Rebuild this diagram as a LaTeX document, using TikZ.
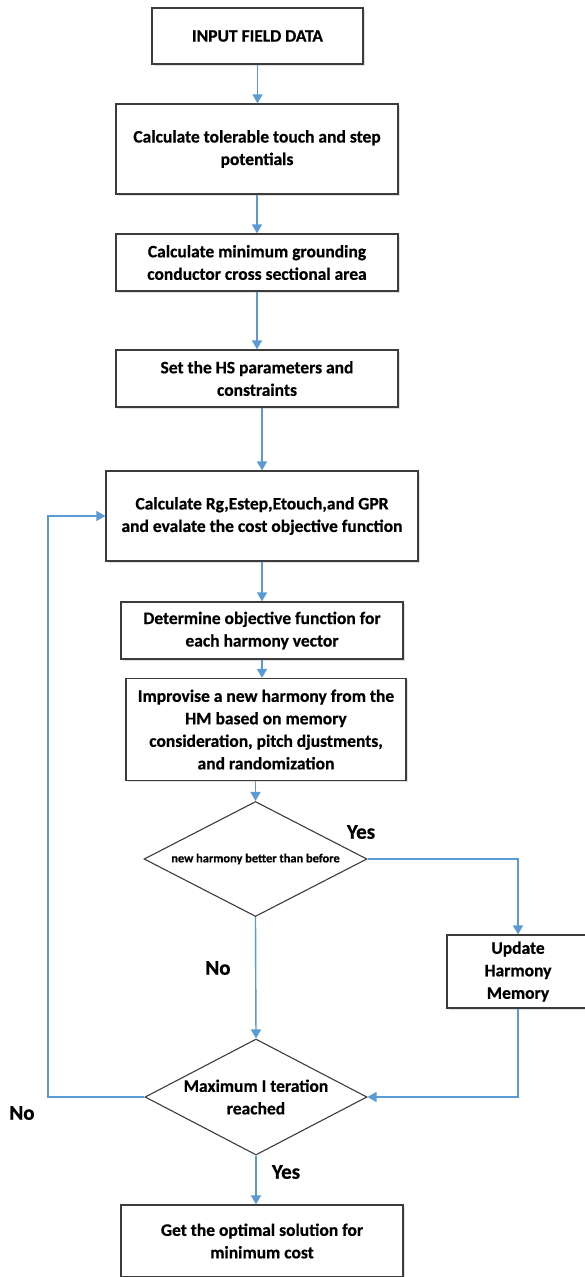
\documentclass[tikz,border=0pt]{standalone}
\usepackage{fontspec}
\setmainfont{Carlito}[BoldFeatures={FakeBold=0.6}]
\usetikzlibrary{arrows.meta,shapes.geometric,shadows}
\definecolor{lnblue}{RGB}{91,155,213}
\definecolor{bordergray}{RGB}{60,60,60}
\tikzset{
  box/.style={draw=bordergray,line width=1.3pt,fill=white,rectangle,align=center,
    inner sep=2pt,font=\fontsize{17.5}{22.5}\selectfont\bfseries,
    drop shadow={shadow xshift=1.5pt,shadow yshift=-1.5pt,opacity=0.25}},
  dec/.style={draw=bordergray,line width=1.1pt,fill=white,diamond,inner sep=0pt},
  dtext/.style={align=center,inner sep=0pt,font=\fontsize{17.5}{22.5}\selectfont\bfseries},
  arr/.style={draw=lnblue,line width=1.4pt,-{Triangle[length=9pt,width=10pt]}},
  lbl/.style={font=\fontsize{21}{24}\selectfont\bfseries}
}
\begin{document}
\begin{tikzpicture}[x=1pt,y=-1pt]
\useasboundingbox (0,0) rectangle (585,1277);
\fill[white] (0,0) rectangle (585,1277);
\node[box,minimum width=211pt,minimum height=56pt] (b1) at (257.5,36) {INPUT FIELD DATA};
\node[box,minimum width=282pt,minimum height=90pt] (b2) at (257,149) {Calculate tolerable touch and step\\potentials};
\node[box,minimum width=282pt,minimum height=57pt] (b3) at (257,262.5) {Calculate minimum grounding\\conductor cross sectional area};
\node[box,minimum width=282pt,minimum height=57pt] (b4) at (257,378.5) {Set the HS parameters and\\constraints};
\node[box,minimum width=312pt,minimum height=90pt] (b5) at (262,516) {Calculate Rg,Estep,Etouch,and GPR\\and evalate the cost objective function};
\node[box,minimum width=282pt,minimum height=57pt] (b6) at (262,630.5) {Determine objective function for\\each harmony vector};
\node[box,minimum width=280pt,minimum height=102pt] (b7) at (266,729.5) {Improvise a new harmony from the\\HM based on memory\\consideration, pitch djustments,\\and randomization};
\node[dec,minimum width=223pt,minimum height=115pt] (d1) at (255.5,859) {};
\node[dtext,font=\fontsize{12.4}{14}\selectfont\bfseries] (d1t) at (d1.center) {new harmony better than before};
\node[box,minimum width=142pt,minimum height=73pt] (upd) at (518,971.5) {Update\\Harmony\\Memory};
\node[dec,minimum width=222pt,minimum height=116pt] (d2) at (256,1097) {};
\node[dtext] (d2t) at (d2.center) {Maximum I teration\\reached};
\node[box,minimum width=282pt,minimum height=72pt,drop shadow={opacity=0}] (fin) at (262,1241) {Get the optimal solution for\\minimum cost};
\coordinate (lp) at (48,1097);

\draw[arr] (b1.south) -- (b1.south |- b2.north);
\draw[arr] (b2.south) -- (b2.south |- b3.north);
\draw[arr] (b3.south) -- (b3.south |- b4.north);
\draw[arr] (b5.north |- b4.south) -- (b5.north);
\draw[arr] (b5.south) -- (b5.south |- b6.north);
\draw[arr] (b6.south) -- (b6.south |- b7.north);
\draw[arr] (d1.north |- b7.south) -- (d1.north);
\draw[arr] (d1.east) -| (upd.north);
\draw[arr] (d1.south) -- (d2.north);
\draw[arr] (upd.south) |- (d2.east);
\draw[arr] (d2.west) -- (lp) |- (b5.west);
\draw[arr] (d2.south) -- (d2.south |- fin.north);

\node[lbl] (yes1) at (361,832) {Yes};
\node[lbl] (no1) at (218,968) {No};
\node[lbl] (no2) at (22,1113) {No};
\node[lbl] (yes2) at (286,1172) {Yes};
\end{tikzpicture}
\end{document}
